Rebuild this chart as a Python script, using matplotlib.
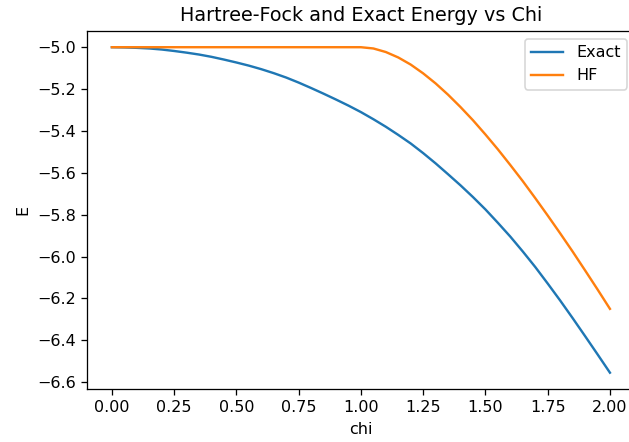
import numpy as np
import matplotlib
matplotlib.use('Agg')
import matplotlib.pyplot as plt

# 数据：从图中读取 (chi 步长 0.05)
chi = [0.00, 0.05, 0.10, 0.15, 0.20, 0.25, 0.30, 0.35, 0.40, 0.45, 0.50,
       0.55, 0.60, 0.65, 0.70, 0.75, 0.80, 0.85, 0.90, 0.95, 1.00,
       1.05, 1.10, 1.15, 1.20, 1.25, 1.30, 1.35, 1.40, 1.45, 1.50,
       1.55, 1.60, 1.65, 1.70, 1.75, 1.80, 1.85, 1.90, 1.95, 2.00]
E_exact = [-5.000, -5.001, -5.003, -5.006, -5.011, -5.018, -5.026, -5.035, -5.046, -5.059, -5.073,
           -5.088, -5.105, -5.124, -5.145, -5.169, -5.195, -5.222, -5.250, -5.279, -5.310,
           -5.344, -5.380, -5.419, -5.460, -5.506, -5.555, -5.607, -5.660, -5.716, -5.775,
           -5.839, -5.905, -5.976, -6.050, -6.129, -6.210, -6.294, -6.380, -6.467, -6.555]
E_hf = [-5.000, -5.000, -5.000, -5.000, -5.000, -5.000, -5.000, -5.000, -5.000, -5.000, -5.000,
        -5.000, -5.000, -5.000, -5.000, -5.000, -5.000, -5.000, -5.000, -5.000, -5.000,
        -5.006, -5.023, -5.049, -5.083, -5.125, -5.173, -5.227, -5.286, -5.349, -5.417,
        -5.488, -5.563, -5.640, -5.721, -5.804, -5.889, -5.976, -6.066, -6.157, -6.250]

DPI = 115
fig = plt.figure(figsize=(629 / DPI, 442 / DPI), dpi=DPI)
ax = fig.add_axes([0.1383, 0.12, 0.871, 0.81])

ax.plot(chi, E_exact, label='Exact')
ax.plot(chi, E_hf, label='HF')

ax.set_xticks([0.0, 0.25, 0.5, 0.75, 1.0, 1.25, 1.5, 1.75, 2.0])
ax.set_yticks([-5.0, -5.2, -5.4, -5.6, -5.8, -6.0, -6.2, -6.4, -6.6])
ax.set_xlabel('chi')
ax.set_ylabel('E')
ax.set_title('Hartree-Fock and Exact Energy vs Chi')
ax.legend(loc='upper right')

fig.savefig('out.png', dpi=DPI)
